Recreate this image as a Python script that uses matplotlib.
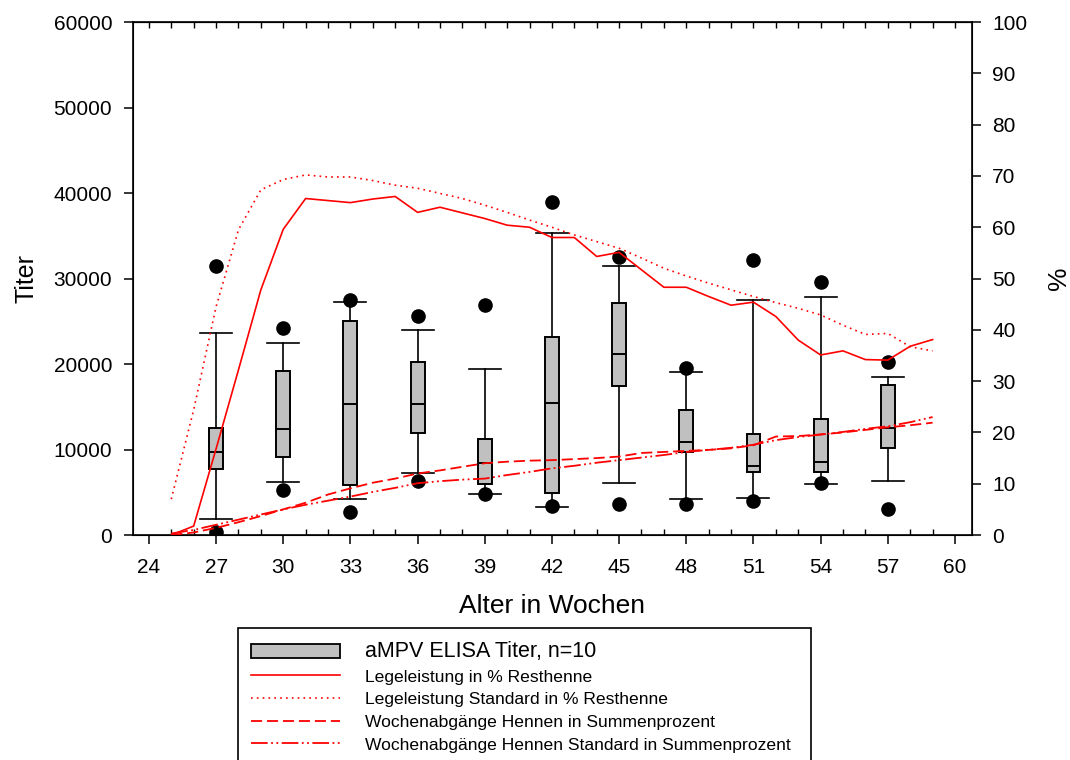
import matplotlib
matplotlib.use('Agg')
import matplotlib.pyplot as plt
from matplotlib.patches import Patch
from matplotlib.lines import Line2D
from matplotlib.ticker import MultipleLocator

plt.rcParams['font.family'] = ['Liberation Sans', 'DejaVu Sans']
plt.rcParams['lines.scale_dashes'] = False

# box plot data (aMPV ELISA Titer, n=10)
box_weeks = [27, 30, 33, 36, 39, 42, 45, 48, 51, 54, 57]
whis_hi = [23660, 22490, 27290, 23980, 19450, 35360, 31460, 19100, 27490, 27880, 18520]
q3 = [12480, 19220, 25030, 20200, 11190, 23120, 27100, 14620, 11810, 13530, 17540]
median = [9670, 12360, 15320, 15320, 8380, 15400, 21130, 10920, 8070, 8580, 12550]
q1 = [7720, 9090, 5850, 11970, 5960, 4950, 17470, 9750, 7330, 7330, 10210]
whis_lo = [1830, 6160, 4170, 7210, 4750, 3320, 6120, 4250, 4370, 5920, 6350]
out_hi = [31500, 24250, 27490, 25650, 26860, 38910, 32550, 19570, 32160, 29550, 20270]
out_lo = [390, 5260, 2730, 6320, 4750, 3390, 3590, 3630, 3980, 6040, 3040]

# weekly lines (right axis, %)
weeks = list(range(25, 60))
lege = [0, 1.75, 16.8, 32.2, 47.8, 59.6, 65.6, 65.2, 64.8, 65.5, 66.0, 62.9, 63.9,
        62.8, 61.7, 60.4, 60.0, 58.0, 58.0, 54.3, 55.1, 51.7, 48.3, 48.3, 46.5, 44.8,
        45.4, 42.6, 38.0, 35.1, 35.9, 34.2, 34.1, 36.8, 38.1]
lege_std = [7.0, 24.4, 44.5, 59.5, 67.3, 69.3, 70.2, 69.8, 69.8, 69.1, 68.2, 67.6, 66.6,
            65.6, 64.3, 62.9, 61.4, 60.0, 58.5, 57.2, 55.9, 54.0, 52.0, 50.5, 49.1, 47.8,
            46.5, 45.3, 44.2, 42.9, 40.9, 39.1, 39.3, 36.7, 35.9]
abg = [0, 0.5, 1.4, 2.5, 3.7, 5.0, 6.3, 7.9, 9.1, 10.2, 11.0, 12.0, 12.6, 13.3, 14.0,
       14.3, 14.5, 14.6, 14.8, 15.0, 15.3, 16.0, 16.2, 16.4, 16.6, 16.9, 17.5, 19.2,
       19.3, 19.6, 20.0, 20.5, 21.0, 21.4, 21.9]
abg_std = [0.3, 1.0, 2.0, 3.0, 4.0, 5.0, 5.9, 6.7, 7.5, 8.4, 9.2, 10.1, 10.5, 10.8, 11.0,
           11.7, 12.3, 13.0, 13.5, 14.1, 14.6, 15.1, 15.6, 16.2, 16.6, 17.0, 17.6, 18.5,
           19.1, 19.6, 20.1, 20.7, 21.2, 22.0, 23.0]

labels = ['aMPV ELISA Titer, n=10',
          'Legeleistung in % Resthenne',
          'Legeleistung Standard in % Resthenne',
          'Wochenabgänge Hennen in Summenprozent',
          'Wochenabgänge Hennen Standard in Summenprozent']

fig = plt.figure(figsize=(10.7, 7.6), dpi=100)
ax = fig.add_axes([0.1243, 0.296, 0.7841, 0.675])

stats = []
for i in range(len(box_weeks)):
    stats.append({'med': median[i], 'q1': q1[i], 'q3': q3[i],
                  'whislo': whis_lo[i], 'whishi': whis_hi[i],
                  'fliers': [out_lo[i], out_hi[i]]})

ax.bxp(stats, positions=box_weeks, widths=0.62, capwidths=1.43, patch_artist=True,
       manage_ticks=False,
       boxprops=dict(facecolor='#c0c0c0', edgecolor='black', linewidth=1.4),
       medianprops=dict(color='black', linewidth=1.4),
       whiskerprops=dict(color='black', linewidth=1.2),
       capprops=dict(color='black', linewidth=1.2),
       flierprops=dict(marker='o', markerfacecolor='black', markeredgecolor='black',
                       markersize=9.5))

ax.set_xlim(23.29, 60.76)
ax.set_ylim(0, 60000)
ax.xaxis.set_major_locator(MultipleLocator(3))
ax.xaxis.set_minor_locator(MultipleLocator(1))
ax.yaxis.set_major_locator(MultipleLocator(10000))
ax.tick_params(axis='x', which='major', direction='out', length=6.5, width=1.1,
               labelsize=15, top=False, pad=10)
ax.tick_params(axis='x', which='minor', direction='in', length=4, width=1.0, top=False)
ax.tick_params(axis='y', which='major', direction='out', length=6.5, width=1.1,
               labelsize=15, pad=8.5)
for s in ax.spines.values():
    s.set_linewidth(1.2)
ax.set_xlabel('Alter in Wochen', fontsize=19, labelpad=12)
ax.set_ylabel('Titer', fontsize=18, labelpad=11)

top = ax.secondary_xaxis('top')
top.xaxis.set_major_locator(MultipleLocator(3))
top.xaxis.set_minor_locator(MultipleLocator(1))
top.tick_params(which='both', direction='in', length=4, width=1.0, labeltop=False)

ax2 = ax.twinx()
ax2.plot(weeks, lege, color='red', linewidth=1.2)
ax2.plot(weeks, lege_std, color='red', linewidth=1.2, linestyle=(0, (1.2, 3)))
ax2.plot(weeks, abg, color='red', linewidth=1.3, linestyle=(0, (8, 3.5)))
ax2.plot(weeks, abg_std, color='red', linewidth=1.3,
         linestyle=(0, (12, 2.5, 1.3, 2.5, 1.3, 2.5)))
ax2.set_ylim(0, 100)
ax2.yaxis.set_major_locator(MultipleLocator(10))
ax2.tick_params(axis='y', direction='out', length=6.5, width=1.1, labelsize=15, pad=8)
ax2.set_ylabel('%', fontsize=19, labelpad=14)

handles = [Patch(facecolor='#c0c0c0', edgecolor='black', linewidth=1.3),
           Line2D([], [], color='red', linewidth=1.2),
           Line2D([], [], color='red', linewidth=1.2, linestyle=(0, (1.2, 3))),
           Line2D([], [], color='red', linewidth=1.3, linestyle=(0, (8, 3.5))),
           Line2D([], [], color='red', linewidth=1.3,
                  linestyle=(0, (12, 2.5, 1.3, 2.5, 1.3, 2.5)))]
leg = fig.legend(handles, labels, loc='upper left',
                 bbox_to_anchor=(0.2225, 0.003, 0.535, 0.171), mode='expand',
                 fontsize=12.6, frameon=True, fancybox=False, framealpha=1,
                 edgecolor='black', handlelength=5.1, handletextpad=1.4,
                 handleheight=0.9, labelspacing=0.37, borderpad=0.75,
                 borderaxespad=0)
leg.get_frame().set_linewidth(1.2)
leg.get_texts()[0].set_fontsize(15.5)

fig.savefig('out.png', dpi=100)
